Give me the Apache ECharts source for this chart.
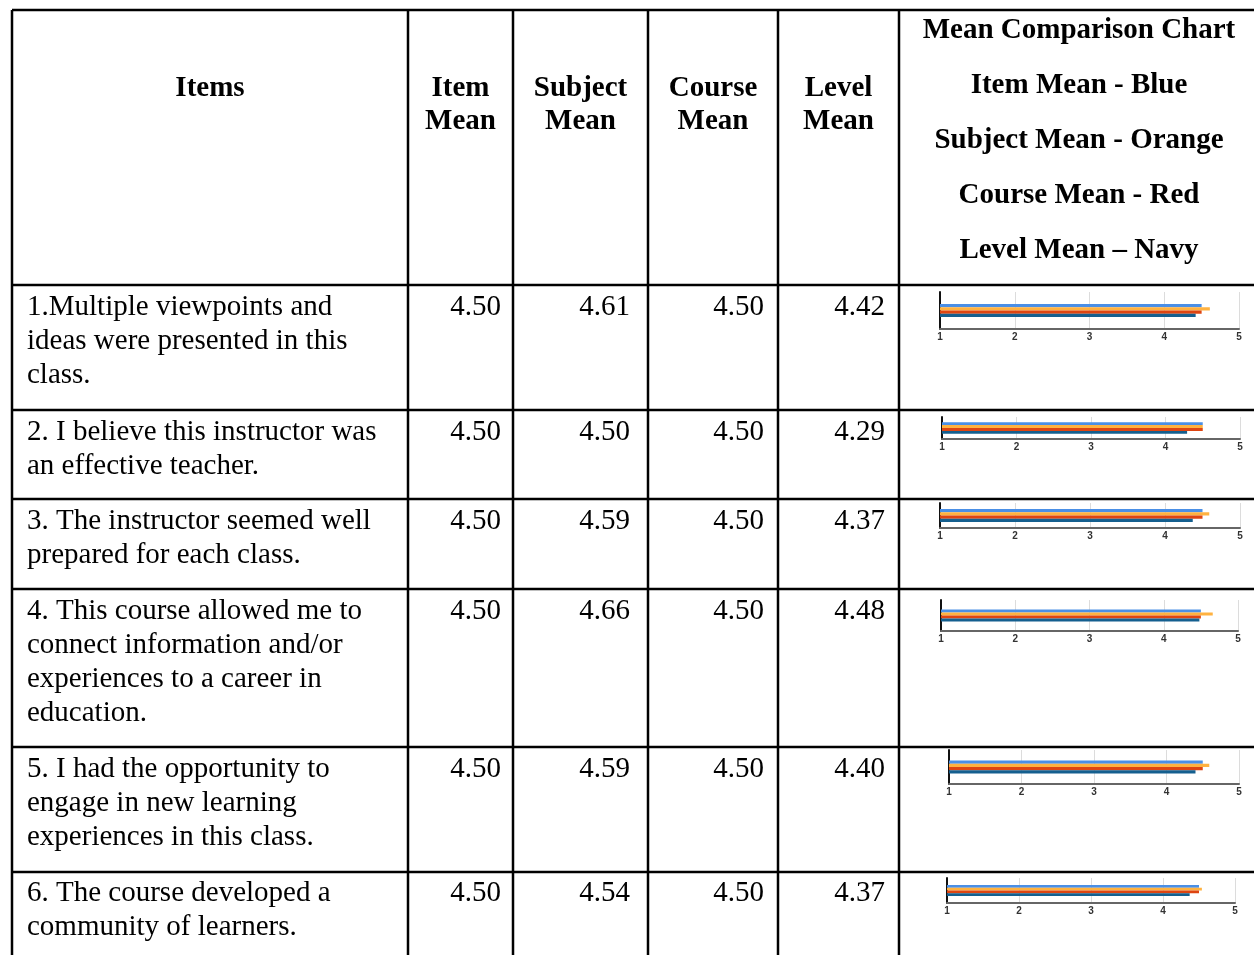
<!DOCTYPE html>
<html>
<head>
<meta charset="utf-8">
<script src="https://cdn.jsdelivr.net/npm/echarts@6/dist/echarts.min.js"></script>
<style>
html,body{margin:0;padding:0;background:#fff;}
#main{width:1254px;height:955px;}
</style>
</head>
<body>
<div id="main"></div>
<script>
// table data
const items = [
    ['1.Multiple viewpoints and', 'ideas were presented in this', 'class.'],
    ['2. I believe this instructor was', 'an effective teacher.'],
    ['3. The instructor seemed well', 'prepared for each class.'],
    ['4. This course allowed me to', 'connect information and/or', 'experiences to a career in', 'education.'],
    ['5. I had the opportunity to', 'engage in new learning', 'experiences in this class.'],
    ['6. The course developed a', 'community of learners.']
];
const itemMean = [4.50, 4.50, 4.50, 4.50, 4.50, 4.50];
const subjectMean = [4.61, 4.50, 4.59, 4.66, 4.59, 4.54];
const courseMean = [4.50, 4.50, 4.50, 4.50, 4.50, 4.50];
const levelMean = [4.42, 4.29, 4.37, 4.48, 4.40, 4.37];
const headers = [['Items'], ['Item', 'Mean'], ['Subject', 'Mean'], ['Course', 'Mean'], ['Level', 'Mean']];
const legendLines = ['Mean Comparison Chart', 'Item Mean - Blue', 'Subject Mean - Orange', 'Course Mean - Red', 'Level Mean \u2013 Navy'];
const seriesNames = ['Item Mean', 'Subject Mean', 'Course Mean', 'Level Mean'];
const axisTicks = [1, 2, 3, 4, 5];

let chart = echarts.init(document.getElementById('main'));

//表格线
const colX = [12, 408, 513, 648, 778, 899];
const rowY = [10, 285, 410, 499, 589, 747, 872];
const rowText = [307, 432, 521, 611, 769, 893];
const numRight = [501, 630, 764, 885];
const serif = '"Liberation Serif", "Times New Roman", serif';

let graphic = [];
for (let y of rowY) {
    graphic.push({type: 'line', silent: true, shape: {x1: colX[0], y1: y, x2: 1254, y2: y},
        style: {stroke: '#000', lineWidth: 2.5}});
}
for (let x of colX) {
    graphic.push({type: 'line', silent: true, shape: {x1: x, y1: rowY[0], x2: x, y2: 955},
        style: {stroke: '#000', lineWidth: 2.5}});
}
function txt(s, x, y, align, bold) {
    graphic.push({type: 'text', silent: true, x: x, y: y,
        style: {text: s, font: (bold ? 'bold ' : '') + '29px ' + serif, fill: '#000',
            textAlign: align, textVerticalAlign: 'middle'}});
}
//表头
headers.forEach(function (h, i) {
    let cx = (colX[i] + colX[i + 1]) / 2;
    h.forEach(function (s, j) { txt(s, cx, 89 + j * 33, 'center', true); });
});
legendLines.forEach(function (s, j) { txt(s, 1079, 31 + j * 55, 'center', true); });
//行
const cols = [itemMean, subjectMean, courseMean, levelMean];
items.forEach(function (lines, r) {
    lines.forEach(function (s, j) { txt(s, 27, rowText[r] + j * 34, 'left', false); });
    cols.forEach(function (c, k) { txt(c[r].toFixed(2), numRight[k], rowText[r], 'right', false); });
});

//小图
const boxes = [
    {left: 940, top: 292, width: 299, height: 37, bar: 3.3},
    {left: 942, top: 417, width: 298, height: 22, bar: 2.9},
    {left: 940, top: 503, width: 300, height: 25, bar: 3.2},
    {left: 941, top: 600, width: 297, height: 31, bar: 3},
    {left: 949, top: 750, width: 290, height: 34, bar: 3.3},
    {left: 947, top: 878, width: 288, height: 25, bar: 2.8}
];
const colors = ['#4a8fe6', '#ffb240', '#de4511', '#145f8f'];
let grid = [], xAxis = [], yAxis = [], series = [];
boxes.forEach(function (b, r) {
    grid.push({left: b.left, top: b.top, width: b.width, height: b.height, outerBoundsMode: 'none'});
    xAxis.push({
        gridIndex: r, type: 'value', min: axisTicks[0], max: axisTicks[axisTicks.length - 1], interval: 1,
        axisLine: {show: true, lineStyle: {color: '#666', width: 2}},
        axisTick: {show: false},
        splitLine: {show: true, lineStyle: {color: '#dcdcdc', width: 1}},
        axisLabel: {fontSize: 10, color: '#333', fontWeight: 'bold', margin: 3, fontFamily: 'Liberation Sans'}
    });
    yAxis.push({
        gridIndex: r, type: 'category', data: [''],
        axisLine: {show: true, lineStyle: {color: '#111', width: 2}},
        axisTick: {show: false}, axisLabel: {show: false}, splitLine: {show: false}
    });
    cols.forEach(function (c, k) {
        series.push({
            name: seriesNames[k], type: 'bar', xAxisIndex: r, yAxisIndex: r,
            data: [c[r]], barWidth: b.bar, barGap: '0%', silent: true,
            itemStyle: {color: colors[k]}
        });
    });
});

chart.setOption({
    backgroundColor: '#fff',
    animation: false,
    grid: grid,
    xAxis: xAxis,
    yAxis: yAxis,
    series: series,
    graphic: graphic
});
</script>
</body>
</html>
